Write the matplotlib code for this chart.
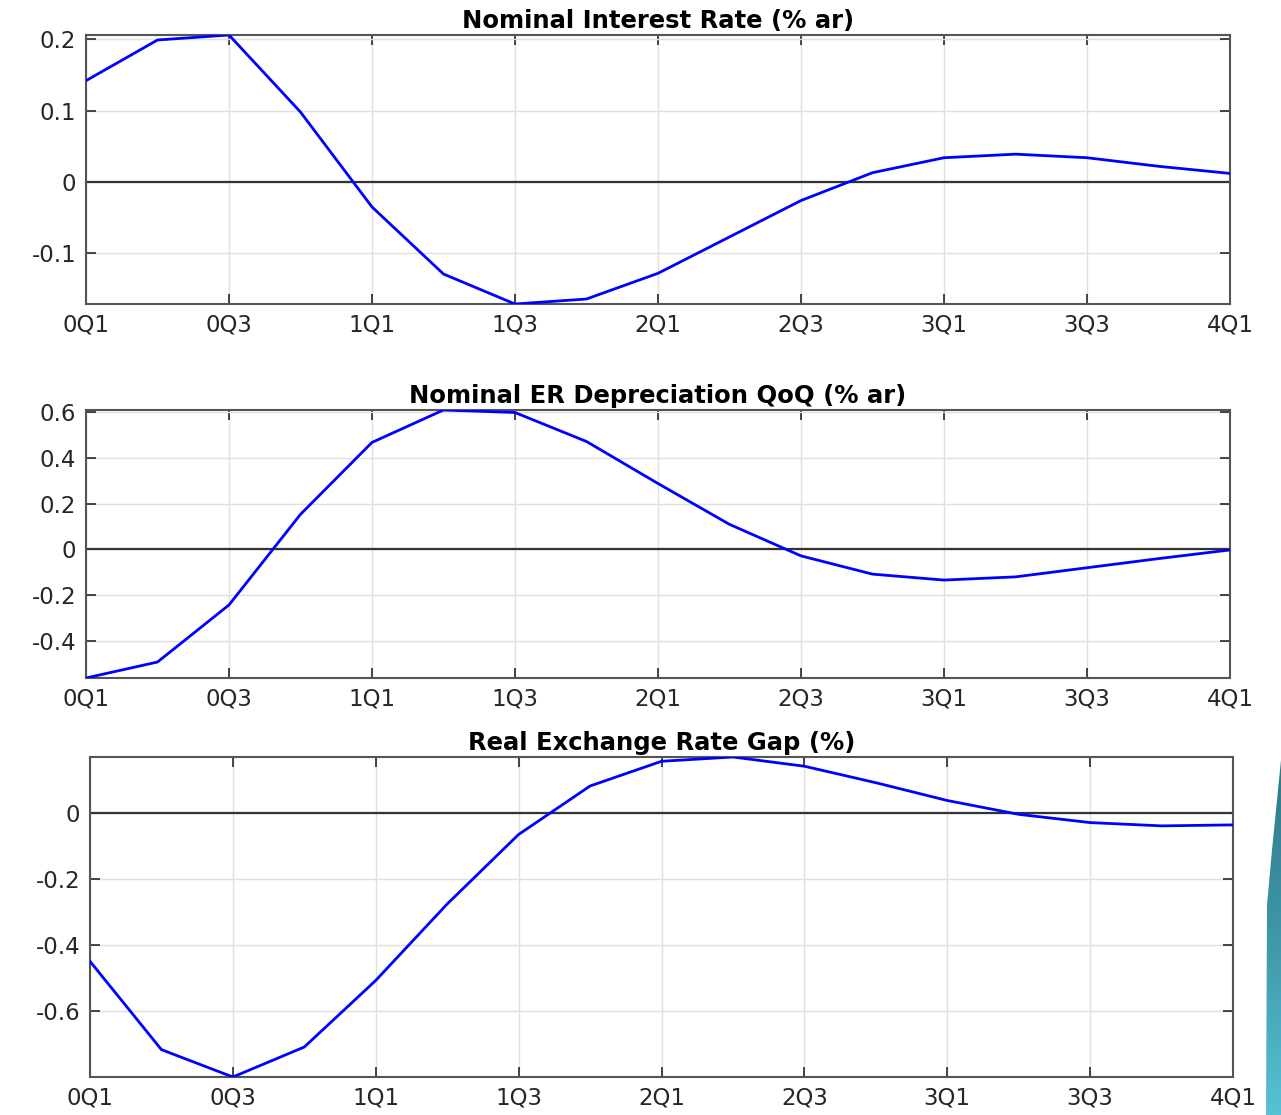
import numpy as np
import matplotlib.pyplot as plt
from matplotlib.patches import Polygon

plt.rcParams['font.family'] = ['DejaVu Sans']

# quarters 0Q1 .. 4Q1
quarters = ['0Q1', '0Q2', '0Q3', '0Q4', '1Q1', '1Q2', '1Q3', '1Q4', '2Q1',
            '2Q2', '2Q3', '2Q4', '3Q1', '3Q2', '3Q3', '3Q4', '4Q1']
tick_labels = quarters[::2]

nominal_rate = [0.142, 0.199, 0.206, 0.098, -0.035, -0.129, -0.171, -0.164, -0.128,
                -0.077, -0.026, 0.013, 0.034, 0.039, 0.034, 0.022, 0.012]
er_depreciation = [-0.564, -0.494, -0.244, 0.153, 0.468, 0.610, 0.599, 0.472, 0.288,
                   0.109, -0.029, -0.109, -0.135, -0.121, -0.081, -0.041, -0.003]
rer_gap = [-0.449, -0.717, -0.800, -0.709, -0.507, -0.275, -0.064, 0.083, 0.158,
           0.171, 0.143, 0.093, 0.039, -0.003, -0.028, -0.038, -0.035]

titles = ['Nominal Interest Rate (% ar)', 'Nominal ER Depreciation QoQ (% ar)',
          'Real Exchange Rate Gap (%)']
series = [nominal_rate, er_depreciation, rer_gap]
yticks = [[-0.1, 0, 0.1, 0.2], [-0.4, -0.2, 0, 0.2, 0.4, 0.6], [-0.6, -0.4, -0.2, 0]]
yticklabels = [['-0.1', '0', '0.1', '0.2'], ['-0.4', '-0.2', '0', '0.2', '0.4', '0.6'],
               ['-0.6', '-0.4', '-0.2', '0']]

W, H = 1281, 1115
fig = plt.figure(figsize=(W / 100, H / 100), dpi=100)

# axes boxes in pixels: left, right, top, bottom
boxes = [(86, 1230, 35, 304), (86, 1230, 410, 678), (90, 1233, 757, 1077)]

x = np.arange(len(quarters))
for k in range(3):
    l, r, t, b = boxes[k]
    ax = fig.add_axes([l / W, 1 - b / H, (r - l) / W, (b - t) / H])
    y = np.array(series[k])
    ax.axhline(0, color='#333333', lw=1.6, zorder=2)
    ax.plot(x, y, color='#0000ff', lw=2.0, zorder=3)
    ax.set_xlim(0, len(quarters) - 1)
    ax.set_ylim(y.min(), y.max())
    ax.set_xticks(x[::2])
    ax.set_xticklabels(tick_labels)
    ax.set_yticks(yticks[k])
    ax.set_yticklabels(yticklabels[k])
    ax.grid(True, color='#e0e0e0', lw=1.0)
    ax.set_axisbelow(True)
    ax.tick_params(direction='in', length=7, width=1.2, top=True, right=True,
                   labelsize=16.5, colors='#262626', pad=7)
    for s in ax.spines.values():
        s.set_color('#555555')
        s.set_linewidth(1.5)
    ax.set_title(titles[k], fontsize=17.5, fontweight='bold', color='black', pad=5)

# teal slide decoration on the right edge, with a vertical gradient
dl, dr, dt, db = 1255, 1281, 740, 1115
dax = fig.add_axes([dl / W, 1 - db / H, (dr - dl) / W, (db - dt) / H])
dax.set_axis_off()
dax.set_xlim(dl, dr)
dax.set_ylim(db, dt)
grad = np.linspace(0, 1, 256).reshape(-1, 1)
cmap = plt.matplotlib.colors.LinearSegmentedColormap.from_list(
    'teal', ['#2c7684', '#3e95a6', '#56c2d4'])
img = dax.imshow(grad, cmap=cmap, aspect='auto', extent=(dl, dr, db, dt))
shape = Polygon([(1281, 760), (1278, 790), (1272, 850), (1267, 905), (1266, 1115),
                 (1281, 1115)], closed=True, transform=dax.transData,
                facecolor='none', edgecolor='none')
dax.add_patch(shape)
img.set_clip_path(shape)

fig.savefig('out.png', dpi=100)
